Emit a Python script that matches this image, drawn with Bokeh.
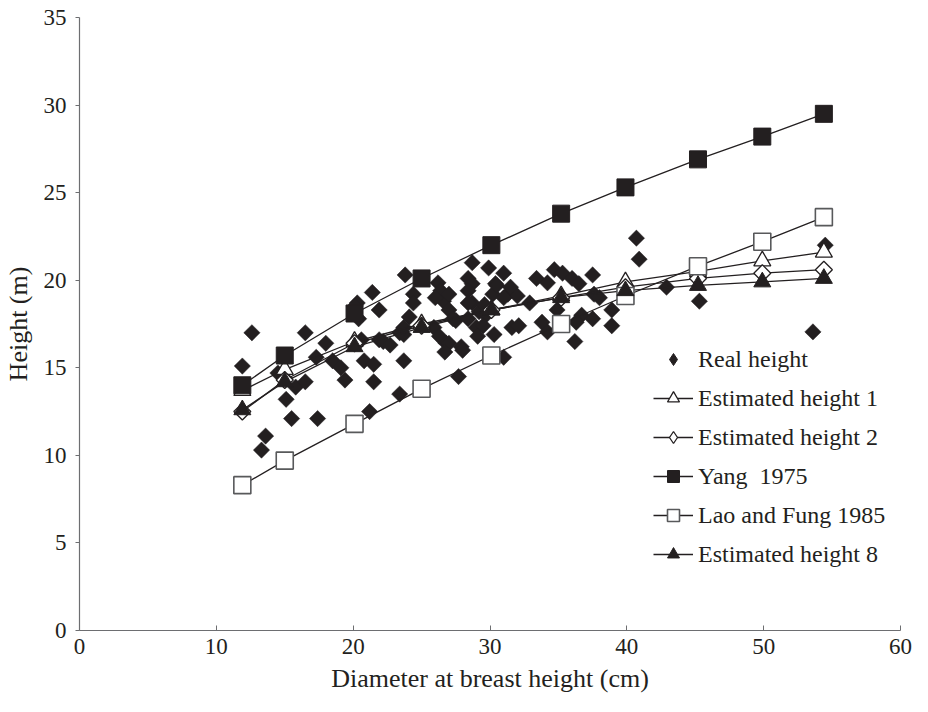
import math
from bokeh.plotting import figure
from bokeh.models import Range1d, Legend, LegendItem
from bokeh.embed import file_html
from bokeh.resources import INLINE

# ---- data ----
dbh = [11.9, 15.0, 20.1, 25.0, 30.1, 35.2, 39.9, 45.2, 49.9, 54.4]
est1 = [13.7, 14.9, 16.5, 17.5, 18.3, 19.1, 19.9, 20.5, 21.1, 21.6]
est2 = [12.5, 14.3, 16.4, 17.4, 18.3, 19.0, 19.6, 20.1, 20.4, 20.6]
yang = [14.0, 15.7, 18.1, 20.1, 22.0, 23.8, 25.3, 26.9, 28.2, 29.5]
lao = [8.3, 9.7, 11.8, 13.8, 15.7, 17.5, 19.1, 20.8, 22.2, 23.6]
est8 = [12.6, 14.2, 16.2, 17.3, 18.3, 19.0, 19.4, 19.7, 19.9, 20.1]

real_x = [11.9, 12.6, 13.3, 13.6, 14.5, 15.1, 15.5, 15.8, 16.5, 16.5,
          17.3, 17.4, 18.0, 18.5, 19.1, 19.4, 20.3, 20.4, 20.6, 20.8,
          21.2, 21.4, 21.5, 21.5, 21.9, 21.9, 22.2, 23.4, 22.7, 23.4,
          23.7, 23.7, 23.8, 24.1, 24.4, 24.4, 23.7, 25.9, 26.2, 26.4,
          26.6, 27.0, 27.0, 27.5, 26.3, 26.8, 27.0, 26.7, 27.9, 28.0,
          27.3, 27.7, 28.4, 28.7, 28.4, 28.7, 28.4, 28.4, 29.2, 28.7,
          29.9, 29.7, 29.0, 29.5, 29.1, 30.3, 30.4, 30.2, 30.5, 31.0,
          31.3, 31.6, 31.5, 32.0, 31.0, 32.9, 32.1, 33.4, 33.8, 34.2,
          34.2, 34.7, 34.9, 35.3, 36.0, 36.5, 36.7, 36.3, 36.2, 37.5,
          37.6, 38.0, 37.5, 38.9, 38.9, 40.7, 40.9, 42.9, 45.3, 53.6,
          54.5, 31.0, 20.1, 15.0, 26.0, 29.6]
real_y = [15.1, 17.0, 10.3, 11.1, 14.7, 13.2, 12.1, 13.9, 17.0, 14.2,
          15.6, 12.1, 16.4, 15.4, 15.0, 14.3, 18.7, 17.8, 16.6, 15.4,
          12.5, 19.3, 15.2, 14.2, 18.3, 16.6, 16.5, 17.0, 16.3, 13.5,
          16.9, 15.4, 20.3, 17.9, 19.2, 18.7, 17.3, 17.3, 19.85, 19.4,
          18.8, 19.2, 18.3, 17.7, 16.8, 16.4, 16.4, 15.9, 16.2, 16.0,
          17.8, 14.5, 20.1, 19.8, 19.4, 18.7, 18.7, 17.8, 18.2, 21.0,
          20.7, 18.0, 17.3, 17.4, 16.8, 16.9, 19.8, 19.2, 19.7, 20.4,
          19.2, 17.3, 19.6, 19.1, 19.0, 18.7, 17.4, 20.1, 17.6, 19.85,
          17.05, 20.6, 18.3, 20.4, 20.1, 19.8, 18.0, 17.6, 16.5, 20.3,
          19.2, 19.0, 17.8, 18.3, 17.4, 22.4, 21.2, 19.6, 18.8, 17.05,
          22.0, 15.6, 18.5, 14.4, 19.0, 18.6]

x_ticks = [0, 10, 20, 30, 40, 50, 60]
y_ticks = [0, 5, 10, 15, 20, 25, 30, 35]

INK = "#231f20"
AXIS = "#6d6e71"
FONT = "Liberation Serif"

p = figure(width=912, height=696, output_backend="svg", toolbar_location=None,
           x_range=Range1d(0, 60), y_range=Range1d(0, 35),
           min_border_left=79, min_border_right=12, min_border_top=17,
           min_border_bottom=66)
p.outline_line_color = None
p.grid.grid_line_color = None
p.background_fill_color = "white"
p.border_fill_color = "white"

for ax in (p.xaxis[0], p.yaxis[0]):
    ax.axis_line_color = AXIS
    ax.axis_line_width = 1.2
    ax.major_tick_line_color = AXIS
    ax.minor_tick_line_color = None
    ax.major_label_text_font = FONT
    ax.major_label_text_font_size = "23px"
    ax.major_label_text_color = INK
    ax.axis_label_text_font = FONT
    ax.axis_label_text_font_size = "26px"
    ax.axis_label_text_font_style = "normal"
    ax.axis_label_text_color = INK

p.xaxis.ticker = x_ticks
p.yaxis.ticker = y_ticks
p.xaxis.major_tick_in = 5
p.xaxis.major_tick_out = 0
p.yaxis.major_tick_in = 0
p.yaxis.major_tick_out = 4
p.xaxis.axis_label = "Diameter at breast height (cm)"
p.yaxis.axis_label = "Height (m)"
p.xaxis.major_label_standoff = 8
p.yaxis.major_label_standoff = 9
p.xaxis.axis_label_standoff = 7
p.yaxis.axis_label_standoff = 8

rot = math.pi / 4

real = p.scatter(real_x, real_y, marker="square", angle=rot, size=11.5,
                 fill_color=INK, line_color=INK, line_width=0.5)
# hidden copies used only for the legend swatches (diamond shape)
real_leg = p.scatter(real_x[:1], real_y[:1], marker="diamond", size=12,
                     fill_color=INK, line_color=INK, visible=False)

lw = 1.3
l1 = p.line(dbh, est1, line_color=INK, line_width=lw)
l2 = p.line(dbh, est2, line_color=INK, line_width=lw)
ly = p.line(dbh, yang, line_color=INK, line_width=lw)
ll = p.line(dbh, lao, line_color=INK, line_width=lw)
l8 = p.line(dbh, est8, line_color=INK, line_width=lw)

m1 = p.scatter(dbh, est1, marker="triangle", size=17, fill_color="white",
               line_color=INK, line_width=1.3)
m2 = p.scatter(dbh, est2, marker="square", angle=rot, size=12, fill_color="white",
               line_color=INK, line_width=1.3)
m2_leg = p.scatter(dbh[:1], est2[:1], marker="diamond", size=12, fill_color="white",
                   line_color=INK, line_width=1.3, visible=False)
my = p.scatter(dbh, yang, marker="square", size=17, fill_color=INK,
               line_color=INK, line_width=1)
ml = p.scatter(dbh, lao, marker="square", size=17, fill_color="white",
               line_color="#58595b", line_width=1.6)
m8 = p.scatter(dbh, est8, marker="triangle", size=17, fill_color=INK,
               line_color=INK, line_width=1)

legend = Legend(items=[
    LegendItem(label="Real height", renderers=[real_leg]),
    LegendItem(label="Estimated height 1", renderers=[l1, m1]),
    LegendItem(label="Estimated height 2", renderers=[l2, m2_leg]),
    LegendItem(label="Yang  1975", renderers=[ly, my]),
    LegendItem(label="Lao and Fung 1985", renderers=[ll, ml]),
    LegendItem(label="Estimated height 8", renderers=[l8, m8]),
], location=(574, 61))
legend.click_policy = "none"
legend.inactive_fill_alpha = 0
legend.border_line_color = None
legend.background_fill_alpha = 0
legend.padding = 0
legend.margin = 0
legend.spacing = 9
legend.glyph_height = 30
legend.glyph_width = 40
legend.label_standoff = 5
legend.label_text_font = FONT
legend.label_text_font_size = "24px"
legend.label_text_color = INK
legend.label_text_baseline = "middle"
p.add_layout(legend, "center")

open("out.html", "w").write(file_html(p, INLINE))
